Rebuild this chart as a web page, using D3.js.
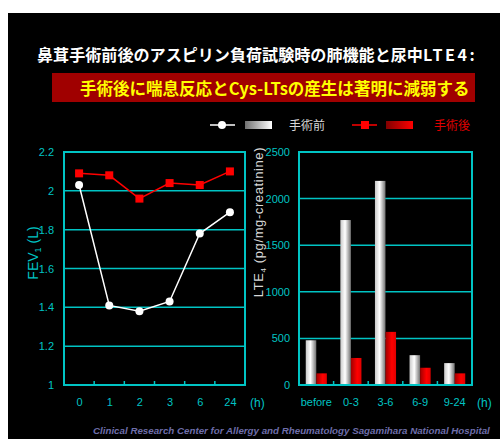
<!DOCTYPE html>
<html><head><meta charset="utf-8">
<script src="https://cdn.jsdelivr.net/npm/d3@7"></script>
<style>body{margin:0;background:#fff}svg{display:block}</style>
</head><body>
<script>
// ---- data ----
const timePoints = ["0","1","2","3","6","24"];
const fevBefore = [2.03, 1.41, 1.38, 1.43, 1.78, 1.89];
const fevAfter  = [2.09, 2.08, 1.96, 2.04, 2.03, 2.10];
const fevTicks = [1, 1.2, 1.4, 1.6, 1.8, 2, 2.2];
const periods = ["before","0-3","3-6","6-9","9-24"];
const lteBefore = [480, 1770, 2190, 320, 235];
const lteAfter  = [125, 290, 570, 185, 125];
const lteTicks = [0, 500, 1000, 1500, 2000, 2500];
const seriesNames = ["手術前","手術後"];
const title1a = "鼻茸手術前後のアスピリン負荷試験時の肺機能と尿中";
const title1b = "LTE4:";
const title2 = "手術後に喘息反応とCys-LTsの産生は著明に減弱する";
const footer = "Clinical Research Center for Allergy and Rheumatology Sagamihara National Hospital";

const W = 500, H = 439;
const cyan = "#00c4c4";
const svg = d3.select("body").append("svg").attr("width", W).attr("height", H);
const defs = svg.append("defs");
const gW = defs.append("linearGradient").attr("id","gw");
gW.append("stop").attr("offset","0%").attr("stop-color","#c8c8c8");
gW.append("stop").attr("offset","45%").attr("stop-color","#ffffff");
gW.append("stop").attr("offset","100%").attr("stop-color","#707070");
const gR = defs.append("linearGradient").attr("id","gr");
gR.append("stop").attr("offset","0%").attr("stop-color","#a00000");
gR.append("stop").attr("offset","60%").attr("stop-color","#ff0000");
gR.append("stop").attr("offset","100%").attr("stop-color","#e00000");
const gWl = defs.append("linearGradient").attr("id","gwl");
gWl.append("stop").attr("offset","0%").attr("stop-color","#707070");
gWl.append("stop").attr("offset","100%").attr("stop-color","#ffffff");
const gRl = defs.append("linearGradient").attr("id","grl");
gRl.append("stop").attr("offset","0%").attr("stop-color","#800000");
gRl.append("stop").attr("offset","100%").attr("stop-color","#ff0000");

svg.append("rect").attr("x",8).attr("y",13).attr("width",W-8).attr("height",H-13).attr("fill","#000");

// fit a text element's font size so its natural width matches a target
function fit(sel, target, maxSize) {
  let fs = maxSize;
  sel.attr("font-size", fs);
  const w = sel.node().getComputedTextLength();
  if (w > target) { fs = maxSize * target / w; sel.attr("font-size", fs); }
  return fs;
}

// titles
const t1 = svg.append("text").attr("x",37).attr("y",61)
  .attr("fill","#fff").attr("font-family","Noto Sans CJK JP").attr("font-weight","bold");
t1.append("tspan").text(title1a);
t1.append("tspan").attr("letter-spacing",2.5).text(title1b);
fit(t1, 440, 17);
svg.append("rect").attr("x",52).attr("y",73).attr("width",423).attr("height",29).attr("fill","#a00000");
const t2 = svg.append("text").attr("x",80).attr("y",94.5)
  .attr("fill","#ffff00").attr("font-family","Noto Sans CJK JP").attr("font-weight","bold")
  .text(title2);
fit(t2, 390, 18);

// legend
const lg = svg.append("g");
lg.append("line").attr("x1",210).attr("x2",235).attr("y1",125).attr("y2",125).attr("stroke","#fff").attr("stroke-width",1.5);
lg.append("circle").attr("cx",222).attr("cy",125).attr("r",4).attr("fill","#fff");
lg.append("rect").attr("x",245).attr("y",121).attr("width",27).attr("height",8).attr("fill","url(#gwl)");
lg.append("text").attr("x",289).attr("y",130).attr("fill","#d8d8d8").attr("font-family","Noto Sans CJK JP").attr("font-size",12).text(seriesNames[0]);
lg.append("line").attr("x1",352).attr("x2",377).attr("y1",125).attr("y2",125).attr("stroke","#f00").attr("stroke-width",1.5);
lg.append("rect").attr("x",361).attr("y",121).attr("width",8).attr("height",8).attr("fill","#f00");
lg.append("rect").attr("x",386).attr("y",121).attr("width",27).attr("height",8).attr("fill","url(#grl)");
lg.append("text").attr("x",434).attr("y",130).attr("fill","#e00000").attr("font-family","Noto Sans CJK JP").attr("font-size",12).text(seriesNames[1]);

const tickFont = "Liberation Sans";

// ---- left chart ----
const L = {x0:64, x1:245, y0:385, y1:152};
const x = d3.scalePoint().domain(timePoints).range([L.x0, L.x1]).padding(0.5);
const y = d3.scaleLinear().domain([1, 2.2]).range([L.y0, L.y1]);
const left = svg.append("g");
left.selectAll("line.grid").data(fevTicks.slice(1,-1)).join("line")
  .attr("x1",L.x0).attr("x2",L.x1).attr("y1",d=>y(d)).attr("y2",d=>y(d)).attr("stroke",cyan).attr("stroke-width",1.5);
left.append("rect").attr("x",L.x0).attr("y",L.y1).attr("width",L.x1-L.x0).attr("height",L.y0-L.y1)
  .attr("fill","none").attr("stroke",cyan).attr("stroke-width",2);
const yAx = left.append("g").attr("transform",`translate(${L.x0-7},0)`)
  .call(d3.axisLeft(y).tickValues(fevTicks).tickSize(0).tickFormat(d3.format("~g")));
yAx.select(".domain").remove();
yAx.selectAll("text").attr("fill",cyan).attr("font-family",tickFont).attr("font-size",11);
const xAx = left.append("g").attr("transform",`translate(0,${L.y0+10})`)
  .call(d3.axisBottom(x).tickSize(0));
xAx.select(".domain").remove();
xAx.selectAll("text").attr("fill",cyan).attr("font-family",tickFont).attr("font-size",11);
const step = x.step();
left.selectAll("line.itick").data(timePoints.slice(1)).join("line")
  .attr("x1",d=>x(d)-step/2).attr("x2",d=>x(d)-step/2).attr("y1",L.y0).attr("y2",L.y0-4).attr("stroke",cyan).attr("stroke-width",1.5);
left.append("text").attr("x",250).attr("y",L.y0+22).attr("fill",cyan).attr("font-family",tickFont).attr("font-size",12).text("(h)");
const yt = left.append("text").attr("transform",`translate(38,253) rotate(-90)`).attr("text-anchor","middle")
  .attr("fill",cyan).attr("font-family",tickFont).attr("font-size",14);
yt.append("tspan").text("FEV");
yt.append("tspan").attr("font-size",9).attr("dy",3).text("1");
yt.append("tspan").attr("dy",-3).text(" (L)");

const line = d3.line().x((d,i)=>x(timePoints[i])).y(d=>y(d));
left.append("path").attr("d",line(fevAfter)).attr("fill","none").attr("stroke","#f00").attr("stroke-width",1.5);
left.selectAll("rect.pa").data(fevAfter).join("rect")
  .attr("x",(d,i)=>x(timePoints[i])-4).attr("y",d=>y(d)-4).attr("width",8).attr("height",8).attr("fill","#f00");
left.append("path").attr("d",line(fevBefore)).attr("fill","none").attr("stroke","#fff").attr("stroke-width",1.5);
left.selectAll("circle.pb").data(fevBefore).join("circle")
  .attr("cx",(d,i)=>x(timePoints[i])).attr("cy",d=>y(d)).attr("r",4).attr("fill","#fff");

// ---- right chart ----
const R = {x0:299, x1:472, y0:385, y1:152};
const xb = d3.scaleBand().domain(periods).range([R.x0, R.x1]);
const xs = d3.scaleBand().domain([0,1]).range([0, xb.bandwidth()]).paddingInner(0).paddingOuter(0.64);
const yb = d3.scaleLinear().domain([0, 2500]).range([R.y0, R.y1]);
const right = svg.append("g");
right.selectAll("line.grid").data(lteTicks.slice(1,-1)).join("line")
  .attr("x1",R.x0).attr("x2",R.x1).attr("y1",d=>yb(d)).attr("y2",d=>yb(d)).attr("stroke",cyan).attr("stroke-width",1.5);
const bars = [lteBefore, lteAfter];
bars.forEach((arr, s) => {
  right.selectAll(`rect.b${s}`).data(arr).join("rect")
    .attr("x",(d,i)=>xb(periods[i])+xs(s)).attr("width",xs.bandwidth())
    .attr("y",d=>yb(d)).attr("height",d=>R.y0-yb(d))
    .attr("fill", s===0 ? "url(#gw)" : "url(#gr)");
});
right.append("rect").attr("x",R.x0).attr("y",R.y1).attr("width",R.x1-R.x0).attr("height",R.y0-R.y1)
  .attr("fill","none").attr("stroke",cyan).attr("stroke-width",2);
const yAx2 = right.append("g").attr("transform",`translate(${R.x0-6},0)`)
  .call(d3.axisLeft(yb).tickValues(lteTicks).tickSize(0).tickFormat(d3.format("d")));
yAx2.select(".domain").remove();
yAx2.selectAll("text").attr("fill",cyan).attr("font-family",tickFont).attr("font-size",11);
const xAx2 = right.append("g").attr("transform",`translate(0,${R.y0+10})`)
  .call(d3.axisBottom(xb).tickSize(0));
xAx2.select(".domain").remove();
xAx2.selectAll("text").attr("fill",cyan).attr("font-family",tickFont).attr("font-size",11);
right.selectAll("line.itick").data(periods.slice(1)).join("line")
  .attr("x1",d=>xb(d)).attr("x2",d=>xb(d)).attr("y1",R.y0).attr("y2",R.y0-4).attr("stroke",cyan).attr("stroke-width",1.5);
right.append("text").attr("x",477).attr("y",R.y0+22).attr("fill",cyan).attr("font-family",tickFont).attr("font-size",12).text("(h)");
const yt2 = right.append("text").attr("transform",`translate(263,222) rotate(-90)`).attr("text-anchor","middle")
  .attr("fill","#d8d8d8").attr("font-family",tickFont).attr("font-size",13).attr("letter-spacing",0.6);
yt2.append("tspan").text("LTE");
yt2.append("tspan").attr("font-size",8).attr("dy",3).text("4");
yt2.append("tspan").attr("dy",-3).text(" (pg/mg-creatinine)");

// footer
const ft = svg.append("text").attr("x",93).attr("y",434)
  .attr("fill","#6e6eaa").attr("font-family","Liberation Sans Narrow, Liberation Sans").attr("font-style","italic").attr("font-weight","bold")
  .text(footer);
fit(ft, 397, 11.5);
</script>
</body></html>
